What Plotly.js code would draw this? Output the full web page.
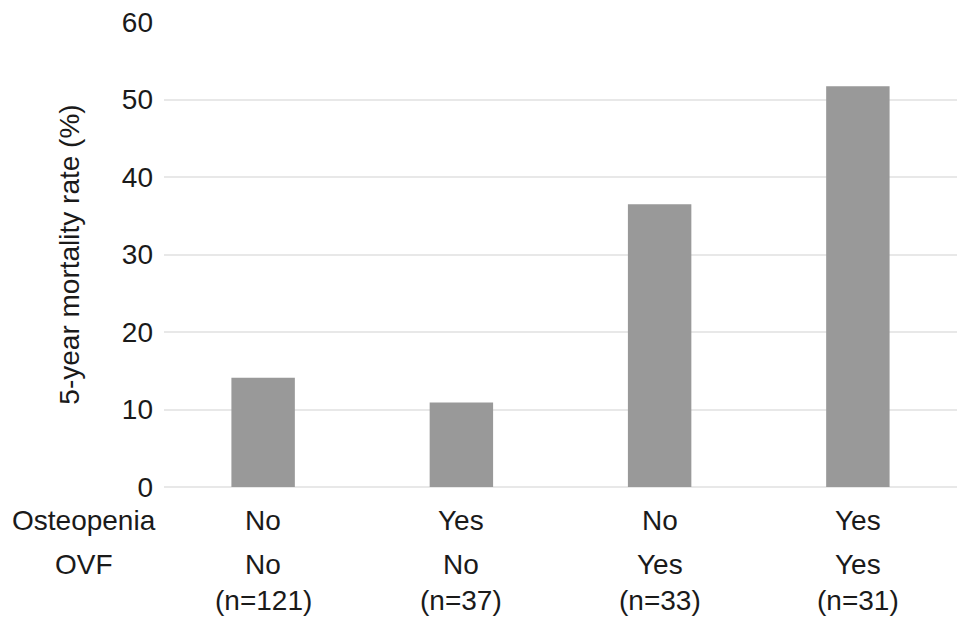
<!DOCTYPE html>
<html>
<head>
<meta charset="utf-8">
<script src="https://cdn.plot.ly/plotly-3.0.1.min.js"></script>
<style>
html,body{margin:0;padding:0;background:#fff;}
#chart{width:969px;height:627px;}
</style>
</head>
<body>
<div id="chart"></div>
<script>
// Data
const categories = [0, 1, 2, 3];
const mortalityRate = [14.1, 10.9, 36.5, 51.7];
const osteopenia = ["No", "Yes", "No", "Yes"];
const ovf = ["No", "No", "Yes", "Yes"];
const nLabels = ["(n=121)", "(n=37)", "(n=33)", "(n=31)"];
const rowHeaders = ["Osteopenia", "OVF"];
const yTicks = [0, 10, 20, 30, 40, 50, 60];

const FONT = "Liberation Sans, Arial, Helvetica, sans-serif";
const FS = 28;

const annotations = [];
const rowY = [-0.073, -0.166, -0.245];
const rows = [osteopenia, ovf, nLabels];
rows.forEach((row, r) => {
  row.forEach((txt, i) => {
    annotations.push({
      x: categories[i], xref: "x", y: rowY[r], yref: "paper",
      text: txt, showarrow: false, xanchor: "center", yanchor: "middle",
      font: {family: FONT, size: FS, color: "#1a1a1a"}
    });
  });
});
rowHeaders.forEach((txt, r) => {
  annotations.push({
    x: -0.101, xref: "paper", y: rowY[r], yref: "paper",
    text: txt, showarrow: false, xanchor: "center", yanchor: "middle",
    font: {family: FONT, size: FS, color: "#1a1a1a"}
  });
});

const trace = {
  type: "bar",
  x: categories,
  y: mortalityRate,
  marker: {color: "#999999", line: {width: 0}},
  hoverinfo: "none"
};

const layout = {
  width: 969, height: 627,
  margin: {l: 164, r: 12, t: 22, b: 140},
  paper_bgcolor: "#ffffff",
  plot_bgcolor: "#ffffff",
  bargap: 0.68,
  showlegend: false,
  font: {family: FONT, size: FS, color: "#1a1a1a"},
  xaxis: {
    range: [-0.5, 3.5],
    showticklabels: false,
    showgrid: false,
    zeroline: false,
    showline: false,
    ticks: "",
    fixedrange: true
  },
  yaxis: {
    range: [0, 60],
    tickvals: yTicks,
    ticktext: yTicks.map(String),
    showgrid: true,
    gridcolor: "#e8e8e8",
    gridwidth: 2,
    zeroline: true,
    zerolinecolor: "#e8e8e8",
    zerolinewidth: 2,
    showline: false,
    ticks: "",
    ticklabelstandoff: 10,
    tickfont: {family: FONT, size: FS, color: "#1a1a1a"},
    title: {text: "5-year mortality rate (%)", font: {family: FONT, size: 28, color: "#1a1a1a"}, standoff: 34},
    fixedrange: true
  },
  annotations: annotations
};

Plotly.newPlot("chart", [trace], layout, {displayModeBar: false, staticPlot: true});
</script>
</body>
</html>
